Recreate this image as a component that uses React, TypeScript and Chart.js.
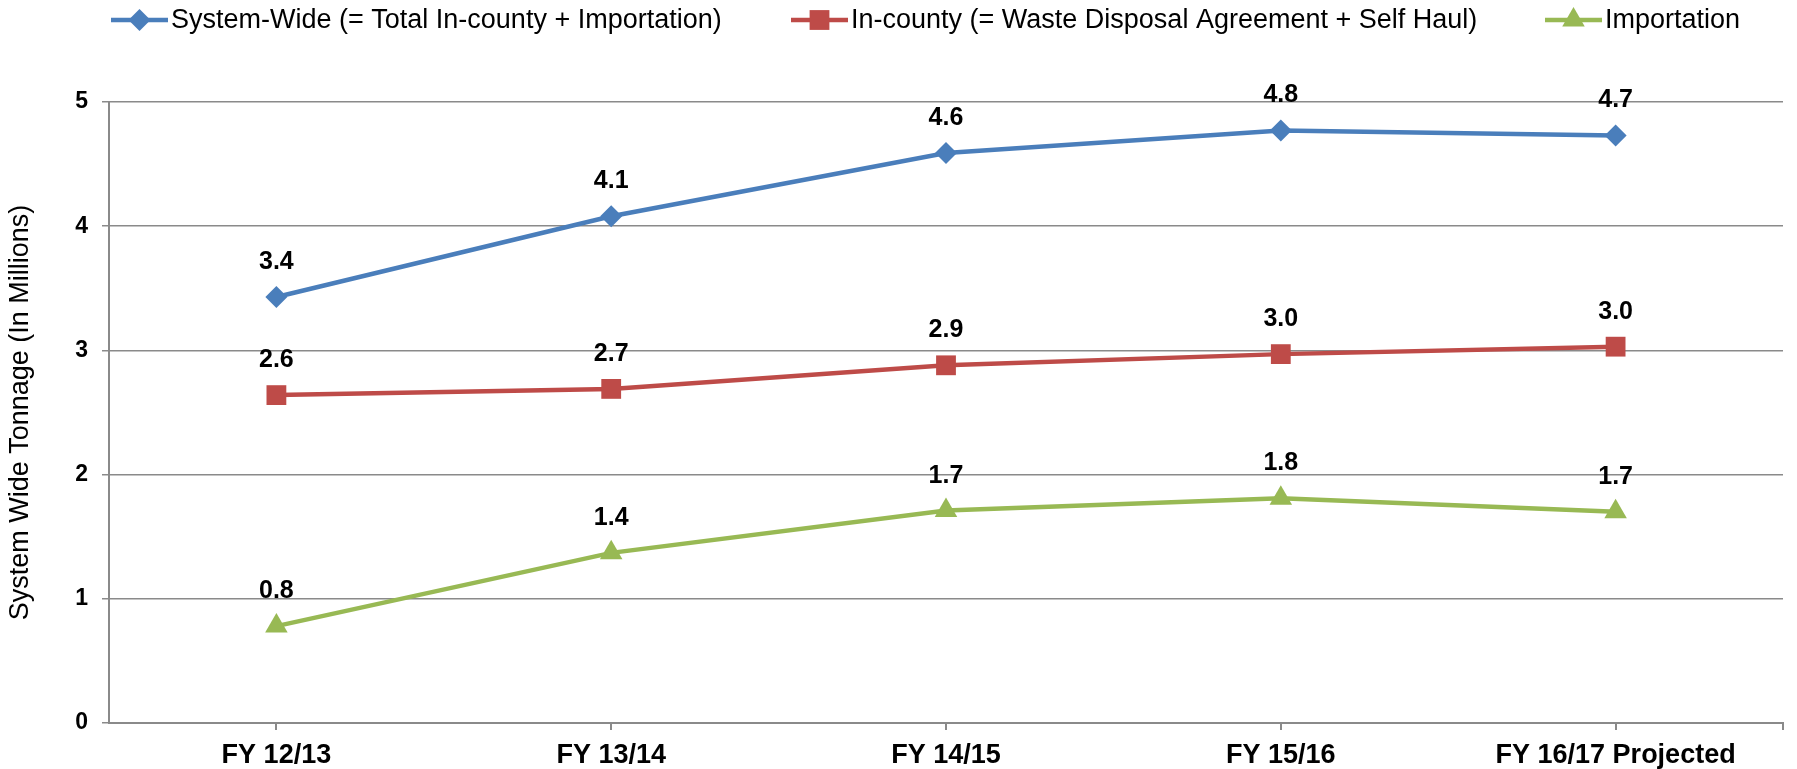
import React, { useEffect, useRef } from 'react';
import { Chart, registerables } from 'chart.js';

Chart.register(...registerables);

const categories = ['FY 12/13', 'FY 13/14', 'FY 14/15', 'FY 15/16', 'FY 16/17 Projected'];
const systemWide = [3.43, 4.08, 4.59, 4.77, 4.73];
const inCounty = [2.64, 2.69, 2.88, 2.97, 3.03];
const importation = [0.78, 1.37, 1.71, 1.81, 1.7];
const seriesLabels = [
  'System-Wide (= Total In-county + Importation)',
  'In-county (= Waste Disposal Agreement + Self Haul)',
  'Importation',
];
const yAxisTitle = 'System Wide Tonnage (In Millions)';
const yMin = 0;
const yMax = 5;
const yStep = 1;

const COLORS = ['#4A7EBB', '#BE4B48', '#98B954'];
const MARKERS = ['rectRot', 'rect', 'triangle'];
const MARKER_R = [11, 14, 13];
const FONT = '"Liberation Sans", Arial, Helvetica, sans-serif';
const GRID = '#8a8a8a';

// legend layout (left x of each item's line sample)
const LEGEND_X = [111, 791, 1545];
const LEGEND_Y = 20;
const LEGEND_LINE_W = 57;

function drawMarker(ctx: CanvasRenderingContext2D, style: string, x: number, y: number, r: number, color: string) {
  ctx.save();
  ctx.fillStyle = color;
  ctx.beginPath();
  if (style === 'rectRot') {
    ctx.moveTo(x, y - r);
    ctx.lineTo(x + r, y);
    ctx.lineTo(x, y + r);
    ctx.lineTo(x - r, y);
  } else if (style === 'rect') {
    const s = r * Math.SQRT1_2;
    ctx.rect(x - s, y - s, 2 * s, 2 * s);
  } else {
    ctx.moveTo(x, y - r);
    ctx.lineTo(x + r * 0.866, y + r / 2);
    ctx.lineTo(x - r * 0.866, y + r / 2);
  }
  ctx.closePath();
  ctx.fill();
  ctx.restore();
}

const overlayPlugin = {
  id: 'overlay',
  afterDatasetsDraw(chart: any) {
    const ctx = chart.ctx as CanvasRenderingContext2D;
    ctx.save();
    ctx.font = `bold 25px ${FONT}`;
    ctx.fillStyle = '#000';
    ctx.textAlign = 'center';
    ctx.textBaseline = 'middle';
    chart.data.datasets.forEach((ds: any, di: number) => {
      const meta = chart.getDatasetMeta(di);
      meta.data.forEach((pt: any, i: number) => {
        ctx.fillText(Number(ds.data[i]).toFixed(1), pt.x, pt.y - 35);
      });
    });
    ctx.restore();
  },
  afterDraw(chart: any) {
    const ctx = chart.ctx as CanvasRenderingContext2D;
    const area = chart.chartArea;
    // end tick on x axis
    ctx.save();
    ctx.strokeStyle = GRID;
    ctx.lineWidth = 2;
    ctx.beginPath();
    ctx.moveTo(area.right, area.bottom);
    ctx.lineTo(area.right, area.bottom + 7);
    ctx.stroke();
    ctx.restore();
    // legend
    ctx.save();
    ctx.font = `27px ${FONT}`;
    ctx.textBaseline = 'middle';
    ctx.textAlign = 'left';
    chart.data.datasets.forEach((ds: any, di: number) => {
      const x0 = LEGEND_X[di];
      ctx.strokeStyle = COLORS[di];
      ctx.lineWidth = 4.5;
      ctx.beginPath();
      ctx.moveTo(x0, LEGEND_Y);
      ctx.lineTo(x0 + LEGEND_LINE_W, LEGEND_Y);
      ctx.stroke();
      drawMarker(ctx, MARKERS[di], x0 + LEGEND_LINE_W / 2, LEGEND_Y, MARKER_R[di], COLORS[di]);
      ctx.fillStyle = '#000';
      ctx.fillText(ds.label, x0 + LEGEND_LINE_W + 3, LEGEND_Y + 1);
    });
    ctx.restore();
  },
};

export default function App() {
  const canvasRef = useRef<HTMLCanvasElement | null>(null);

  useEffect(() => {
    const canvas = canvasRef.current;
    if (!canvas) return;
    const seriesData = [systemWide, inCounty, importation];
    const chart = new Chart(canvas, {
      type: 'line',
      data: {
        labels: categories,
        datasets: seriesData.map((d, i) => ({
          label: seriesLabels[i],
          data: d,
          borderColor: COLORS[i],
          backgroundColor: COLORS[i],
          borderWidth: 4.5,
          pointStyle: MARKERS[i] as any,
          pointRadius: MARKER_R[i],
          pointHoverRadius: MARKER_R[i],
          pointBorderWidth: 0,
          pointBackgroundColor: COLORS[i],
          tension: 0,
          fill: false,
        })),
      },
      options: {
        responsive: false,
        animation: false,
        devicePixelRatio: 1,
        layout: { padding: { top: 102, right: 7, left: 0, bottom: 0 } },
        plugins: {
          legend: { display: false },
          tooltip: { enabled: false },
        },
        scales: {
          x: {
            type: 'category',
            offset: true,
            grid: {
              offset: false,
              drawOnChartArea: false,
              drawTicks: true,
              tickLength: 7,
              color: GRID,
              lineWidth: 2,
            },
            border: { display: true, color: GRID, width: 2 },
            ticks: {
              color: '#000',
              font: { family: FONT, size: 27, weight: 'bold' },
              padding: 9,
              maxRotation: 0,
              autoSkip: false,
            },
            afterFit: (scale: any) => {
              scale.height = 46;
            },
          },
          y: {
            min: yMin,
            max: yMax,
            grid: {
              color: GRID,
              lineWidth: 1.5,
              drawTicks: true,
              tickLength: 7,
            },
            border: { display: true, color: GRID, width: 2 },
            ticks: {
              stepSize: yStep,
              color: '#000',
              font: { family: FONT, size: 23, weight: 'bold' },
              padding: 14,
            },
            title: {
              display: true,
              text: yAxisTitle,
              color: '#000',
              font: { family: FONT, size: 27, weight: 'normal' },
              padding: { top: 4, bottom: 4 },
            },
            afterFit: (scale: any) => {
              scale.width = 109;
            },
          },
        },
      },
      plugins: [overlayPlugin],
    });
    return () => chart.destroy();
  }, []);

  return (
    <div style={{ position: 'absolute', left: 0, top: 0, width: 1797, height: 769, background: '#fff' }}>
      <canvas ref={canvasRef} width={1797} height={769} />
    </div>
  );
}
